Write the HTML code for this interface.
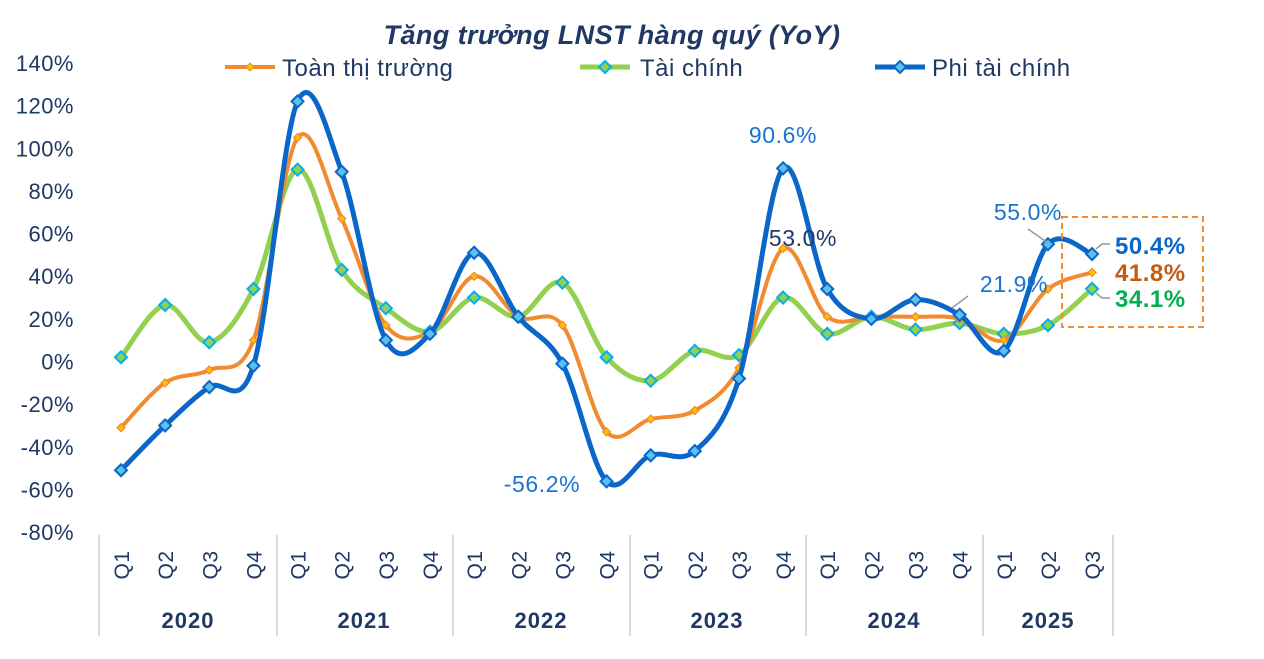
<!DOCTYPE html>
<html><head><meta charset="utf-8"><style>
body{margin:0;background:#fff;width:1264px;height:654px;overflow:hidden;font-family:"Liberation Sans",sans-serif}
</style></head><body>
<svg id="s" width="1264" height="654" xmlns="http://www.w3.org/2000/svg" font-family="Liberation Sans, sans-serif">
<text x="612" y="44" text-anchor="middle" font-size="27" font-weight="bold" font-style="italic" fill="#1f3864" letter-spacing="0.4">Tăng trưởng LNST hàng quý (YoY)</text>
<g font-size="22" fill="#1f3864" text-anchor="end" id="yax" letter-spacing="0.5"></g>
<line x1="225" y1="67" x2="275" y2="67" stroke="#f28a30" stroke-width="4"/>
<path d="M250 63 L254 67 L250 71 L246 67Z" fill="#ffc000" stroke="#f28a30"/>
<text x="282" y="76" font-size="24" fill="#1f3864" letter-spacing="0.5">Toàn thị trường</text>
<line x1="580" y1="67" x2="630" y2="67" stroke="#92d050" stroke-width="5"/>
<path d="M605 61 L611 67 L605 73 L599 67Z" fill="#92d050" stroke="#00b0f0" stroke-width="2"/>
<text x="640" y="76" font-size="24" fill="#1f3864" letter-spacing="0.5">Tài chính</text>
<line x1="875" y1="67" x2="925" y2="67" stroke="#0a66c8" stroke-width="5"/>
<path d="M900 61 L906 67 L900 73 L894 67Z" fill="#5bc0eb" stroke="#0a66c8" stroke-width="2"/>
<text x="932" y="76" font-size="24" fill="#1f3864" letter-spacing="0.5">Phi tài chính</text>
<g id="xax"></g>
<g id="ser"></g>
<rect x="1062" y="217" width="141" height="110" fill="none" stroke="#f28a30" stroke-width="2" stroke-dasharray="6,4"/>
<g stroke="#999" stroke-width="1.5" fill="none">
<polyline points="1096,249 1102,244 1110,244"/>
<polyline points="1096,293 1102,298 1110,298"/>
<line x1="1028" y1="229" x2="1048" y2="243"/>
<line x1="968" y1="296" x2="952" y2="308"/>
</g>
<g font-weight="bold" font-size="24" letter-spacing="0.5">
<text x="1115" y="254" fill="#0a66c8">50.4%</text>
<text x="1115" y="281" fill="#c55a11">41.8%</text>
<text x="1115" y="307" fill="#00b050">34.1%</text>
</g>
<g font-size="23" letter-spacing="0.6">
<text x="783" y="143" text-anchor="middle" fill="#1a73d0">90.6%</text>
<text x="803" y="246" text-anchor="middle" fill="#1f3864">53.0%</text>
<text x="542" y="492" text-anchor="middle" fill="#1a73d0">-56.2%</text>
<text x="1028" y="220" text-anchor="middle" fill="#1a73d0">55.0%</text>
<text x="1014" y="292" text-anchor="middle" fill="#1a73d0">21.9%</text>
</g>
</svg>
<script>
const NS="http://www.w3.org/2000/svg";
const y0=361.5,k=2.132,x0=121,d=44.14;
const Y=v=>y0-v*k, X=i=>x0+i*d;
function el(t,a,p,txt){const e=document.createElementNS(NS,t);for(const q in a)e.setAttribute(q,a[q]);if(txt!=null)e.textContent=txt;p.appendChild(e);return e;}
const yax=document.getElementById('yax');
for(let v=140;v>=-80;v-=20) el('text',{x:74,y:Y(v)+8},yax,v+'%');
const xax=document.getElementById('xax');
[99,277,453,630,806,983,1113].forEach(x=>el('line',{x1:x,y1:535,x2:x,y2:636,stroke:'#ccc','stroke-width':1.5},xax));
const yrs=['2020','2021','2022','2023','2024','2025'];
for(let i=0;i<23;i++){const q='Q'+(i%4+1);const x=X(i);el('text',{x:0,y:0,transform:`translate(${x+8},565) rotate(-90)`,'text-anchor':'middle','font-size':21,fill:'#1f3864','letter-spacing':0.5},xax,q);}
[188,364,541,717,894,1048].forEach((x,j)=>el('text',{x:x,y:628,'text-anchor':'middle','font-size':22,'font-weight':'bold',fill:'#1f3864','letter-spacing':1},xax,yrs[j]));
const or=[-31,-10,-4,10,105,67,17,14,40,21,17,-33,-27,-23,-3,53,21,21,21,20,10,34,41.8];
const gr=[2,26.5,9,34,90,43,25,14,30,21,37,2,-9,5,3,30,13,21,15,18,13,17,34.1];
const bl=[-51,-30,-12,-2,122,89,10,13,51,21,-1,-56.2,-44,-42,-8,90.6,34,20,29,21.9,5,55,50.4];
function path(vals){const p=vals.map((v,i)=>[X(i),Y(v)]);let s=`M${p[0][0]},${p[0][1]}`;
for(let i=0;i<p.length-1;i++){const a=p[Math.max(i-1,0)],b=p[i],c=p[i+1],e=p[Math.min(i+2,p.length-1)];const t=6;
s+=` C${b[0]+(c[0]-a[0])/t},${b[1]+(c[1]-a[1])/t} ${c[0]-(e[0]-b[0])/t},${c[1]-(e[1]-b[1])/t} ${c[0]},${c[1]}`;}return s;}
const g=document.getElementById('ser');
function series(vals,col,w,ms,fill,stroke,sw){el('path',{d:path(vals),fill:'none',stroke:col,'stroke-width':w},g);
vals.forEach((v,i)=>{const x=X(i),y=Y(v);el('path',{d:`M${x},${y-ms}L${x+ms},${y}L${x},${y+ms}L${x-ms},${y}Z`,fill:fill,stroke:stroke,'stroke-width':sw},g);});}
series(gr,'#92d050',5,6,'#92d050','#00b0f0',2);
series(or,'#f28a30',4,4,'#ffc000','#f28a30',1.2);
series(bl,'#0a66c8',5,6,'#5bc0eb','#0a66c8',2);
</script>
</body></html>
